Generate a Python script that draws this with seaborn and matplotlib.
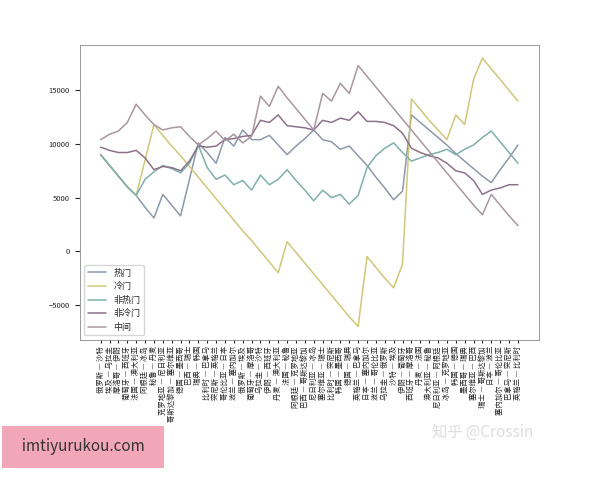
import numpy as np
import pandas as pd
import matplotlib
matplotlib.use("Agg")
import matplotlib.pyplot as plt
import seaborn as sns

matches = [
    "俄罗斯 — 沙特", "埃及 — 乌拉圭", "摩洛哥 — 伊朗", "葡萄牙 — 西班牙",
    "法国 — 澳大利亚", "阿根廷 — 冰岛", "秘鲁 — 丹麦", "克罗地亚 — 尼日利亚",
    "哥斯达黎加 — 塞尔维亚", "德国 — 墨西哥", "巴西 — 瑞士", "瑞典 — 韩国",
    "比利时 — 巴拿马", "突尼斯 — 英格兰", "哥伦比亚 — 日本", "波兰 — 塞内加尔",
    "俄罗斯 — 埃及", "葡萄牙 — 摩洛哥", "乌拉圭 — 沙特", "伊朗 — 西班牙",
    "丹麦 — 澳大利亚", "法国 — 秘鲁", "阿根廷 — 克罗地亚", "巴西 — 哥斯达黎加",
    "尼日利亚 — 冰岛", "塞尔维亚 — 瑞士", "比利时 — 突尼斯", "韩国 — 墨西哥",
    "德国 — 瑞典", "英格兰 — 巴拿马", "日本 — 塞内加尔", "波兰 — 哥伦比亚",
    "乌拉圭 — 俄罗斯", "沙特 — 埃及", "伊朗 — 葡萄牙", "西班牙 — 摩洛哥",
    "丹麦 — 法国", "澳大利亚 — 秘鲁", "尼日利亚 — 阿根廷", "冰岛 — 克罗地亚",
    "韩国 — 德国", "墨西哥 — 瑞典", "塞尔维亚 — 巴西", "瑞士 — 哥斯达黎加",
    "日本 — 波兰", "塞内加尔 — 哥伦比亚", "巴拿马 — 突尼斯", "英格兰 — 比利时",
]

hot = [9000, 8000, 7000, 6000, 5200, 4100, 3100, 5300, 4300, 3300, 6700, 10100,
       9200, 8200, 10600, 9800, 11300, 10400, 10400, 10800, 9900, 9000, 9800, 10500,
       11300, 10400, 10200, 9500, 9800, 8900, 8000, 6900, 5900, 4800, 5600, 12700,
       12000, 11300, 10600, 9900, 9100, 8400, 7700, 7000, 6400, 7600, 8700, 9900]
cold = [9000, 8000, 7000, 6000, 5200, 8500, 11800, 10800, 9800, 8900, 7900, 6900,
        5900, 4900, 3900, 2900, 1900, 1000, 0, -1000, -2000, 900, -100, -1100,
        -2100, -3100, -4100, -5100, -6100, -7000, -500, -1500, -2500, -3400, -1200, 14200,
        13200, 12200, 11300, 10400, 12700, 11800, 16000, 18000, 17000, 16000, 15000, 14000]
not_hot = [9000, 8000, 7000, 6000, 5200, 6700, 7400, 8000, 7700, 7300, 8200, 9900,
           7800, 6700, 7100, 6200, 6600, 5700, 7100, 6200, 6700, 7600, 6600, 5700,
           4700, 5700, 5000, 5300, 4400, 5200, 7800, 8900, 9600, 10100, 9200, 8400,
           8700, 9000, 9200, 9500, 9000, 9500, 9900, 10600, 11200, 10200, 9200, 8200]
not_cold = [9700, 9400, 9200, 9200, 9400, 8700, 7600, 7900, 7800, 7500, 8400, 9800,
            9700, 9800, 10400, 10500, 10700, 10800, 12200, 12000, 12700, 11700, 11600, 11500,
            11300, 12200, 12000, 12400, 12200, 13000, 12100, 12100, 12000, 11700, 11000, 9600,
            9200, 8900, 8700, 8200, 7500, 7300, 6600, 5300, 5700, 5900, 6200, 6200]
middle = [10400, 10900, 11200, 12000, 13700, 12700, 11800, 11300, 11500, 11600, 10700, 9900,
          10500, 11200, 10300, 10900, 10100, 10700, 14450, 13500, 15370, 14300, 13300, 12300,
          11300, 14700, 14000, 15650, 14700, 17300, 16300, 15300, 14300, 13300, 12300, 11300,
          10300, 9300, 8300, 7300, 6300, 5300, 4300, 3400, 5300, 4300, 3300, 2400]

series = {"热门": hot, "冷门": cold, "非热门": not_hot, "非冷门": not_cold, "中间": middle}
colors = ["#8d98aa", "#cfc77a", "#7fb0aa", "#8c7289", "#a8979f"]

df = pd.DataFrame(series)
df["match"] = matches
long = df.melt(id_vars="match", var_name="类型", value_name="收益")

sns.set_style("ticks")
plt.rcParams["font.family"] = ["Noto Sans CJK SC", "DejaVu Sans"]

fig = plt.figure(figsize=(6, 4.8), dpi=100)
ax = fig.add_axes([0.133, 0.292, 0.765, 0.615])
sns.lineplot(data=long, x="match", y="收益", hue="类型", palette=colors,
             sort=False, linewidth=1.1, ax=ax)

ax.set_xlabel("")
ax.set_ylabel("")
ax.set_xticks(range(len(matches)))
ax.set_xticklabels(matches, rotation=90, fontsize=5.3)
ax.tick_params(axis="x", pad=2, length=2.5)
ax.tick_params(axis="y", labelsize=5.5)
ax.set_yticks([-5000, 0, 5000, 10000, 15000])
for s in ax.spines.values():
    s.set_color("#999999")
    s.set_linewidth(0.7)
ax.legend(loc="lower left", fontsize=6.5, frameon=True, title=None)

fig.text(0.72, 0.09, "知乎 @Crossin", fontsize=11, color="#dddddd")
fig.text(0.025, 0.06, "  imtiyurukou.com  ", fontsize=11, color="#333333",
         bbox=dict(facecolor="#f2a7b8", edgecolor="none", pad=9))

fig.savefig("out.png", dpi=100)
